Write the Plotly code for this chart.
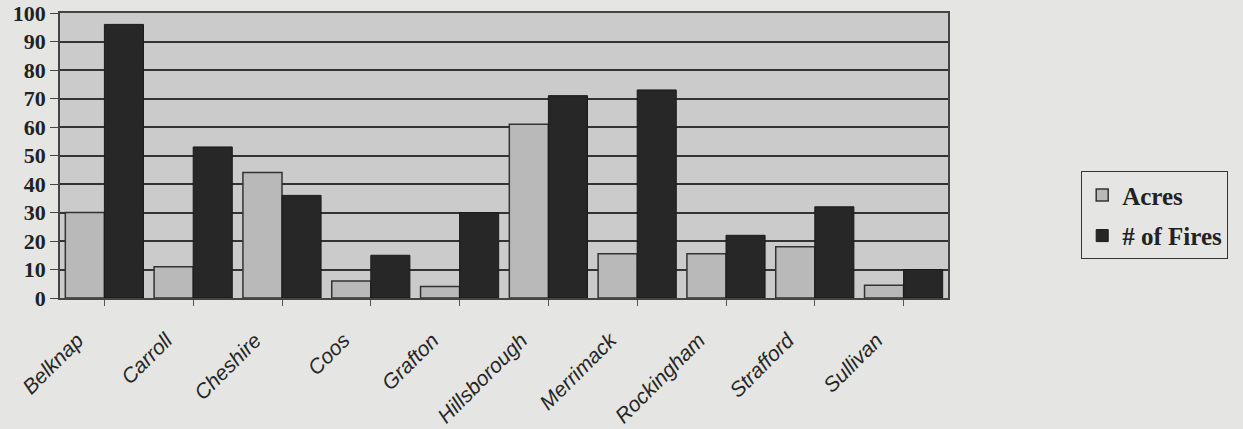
import plotly.graph_objects as go

counties = ["Belknap", "Carroll", "Cheshire", "Coos", "Grafton", "Hillsborough",
            "Merrimack", "Rockingham", "Strafford", "Sullivan"]
acres = [30, 11, 44, 6, 4, 61, 15.5, 15.5, 18, 4.5]
fires = [96, 53, 36, 15, 30, 71, 73, 22, 32, 10]
y_ticks = [0, 10, 20, 30, 40, 50, 60, 70, 80, 90, 100]

fig = go.Figure()
fig.add_trace(go.Bar(name="Acres", x=counties, y=acres, legendgroup="a",
                     marker=dict(color="#b9b9b9", line=dict(color="#333333", width=1.5))))
fig.add_trace(go.Bar(name="# of Fires", x=counties, y=fires, legendgroup="f",
                     marker=dict(color="#272727", line=dict(color="#1a1a1a", width=1))))

fig.update_layout(
    width=1243, height=429,
    margin=dict(l=60, r=295, t=13, b=131),
    paper_bgcolor="#e5e6e4",
    plot_bgcolor="#cbcbcb",
    barmode="group", bargap=0.12, bargroupgap=0.0,
    legend=dict(x=1.15, xanchor="left", y=0.29, yanchor="middle",
                bgcolor="#e5e6e4", bordercolor="#333333", borderwidth=1,
                traceorder="grouped", tracegroupgap=5,
                font=dict(family="Liberation Serif, Times New Roman, serif", size=25,
                          color="#222222", weight="bold")),
    xaxis=dict(tickangle=-45, showgrid=False, showline=True, linecolor="#444444",
               linewidth=1.5, mirror=True, automargin=False,
               ticks="outside", ticklen=6, tickcolor="#555555",
               ticklabelshift=-27, ticklabelstandoff=14,
               tickfont=dict(family="Liberation Sans, Arial, sans-serif", size=21,
                             color="#262626", style="italic")),
    yaxis=dict(range=[0, 100], tickvals=y_ticks, showgrid=True, gridcolor="#333333",
               gridwidth=2, showline=True, linecolor="#444444", linewidth=1.5,
               mirror=True, ticks="outside", automargin=False,
               ticklen=8, tickcolor="#444444", zeroline=False,
               tickfont=dict(family="Liberation Serif, Times New Roman, serif", size=22,
                             color="#222222", weight="bold")),
    showlegend=True,
)
fig.write_html("out.html")
